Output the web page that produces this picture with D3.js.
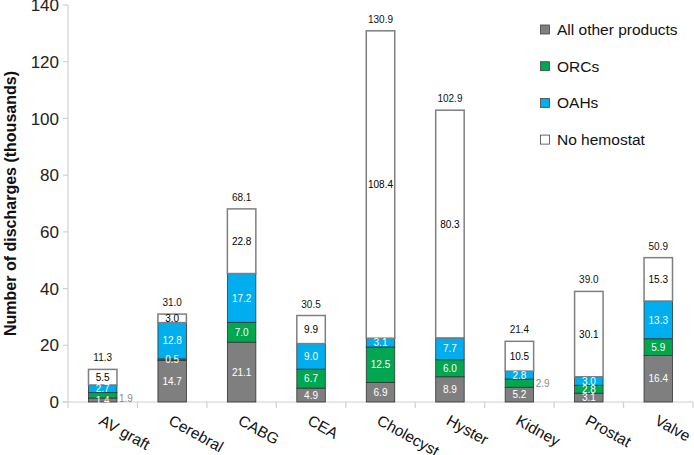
<!DOCTYPE html>
<html><head><meta charset="utf-8">
<script src="https://cdn.jsdelivr.net/npm/d3@7"></script>
<style>body{margin:0;background:#fff;}svg{display:block;font-family:"Liberation Sans",Arial,sans-serif;}</style>
</head><body><svg id="c" width="694" height="455"></svg>
<script>
const categories = ["AV graft","Cerebral","CABG","CEA","Cholecyst","Hyster","Kidney","Prostat","Valve"];
const seriesNames = ["All other products","ORCs","OAHs","No hemostat"];
const allOther = [1.4,14.7,21.1,4.9,6.9,8.9,5.2,3.1,16.4];
const orcs     = [1.9,0.5,7.0,6.7,12.5,6.0,2.9,2.8,5.9];
const oahs     = [2.7,12.8,17.2,9.0,3.1,7.7,2.8,3.0,13.3];
const noHemo   = [5.5,3.0,22.8,9.9,108.4,80.3,10.5,30.1,15.3];
const totals   = [11.3,31.0,68.1,30.5,130.9,102.9,21.4,39.0,50.9];
const yTicks   = [0,20,40,60,80,100,120,140];
const outsideLabels = [["AV graft","ORCs"],["Kidney","ORCs"]];

(function(){
const seriesValues = [allOther, orcs, oahs, noHemo];
const colors = ["#7f7f7f","#00a650","#00aeef","#ffffff"];
const textColors = ["#ffffff","#ffffff","#ffffff","#000000"];

const svg = d3.select("#c");
const mL = 68, mR = 693, mT = 5, mB = 402;
const x = d3.scaleBand().domain(categories).range([mL, mR]).paddingInner(0).paddingOuter(0);
const y = d3.scaleLinear().domain([0,140]).range([mB, mT]);
const bw = x.bandwidth()*0.41;

// axes
const axisColor = "#d0d0d0";
svg.append("line").attr("x1",mL).attr("x2",mL).attr("y1",y(140)).attr("y2",mB).attr("stroke",axisColor).attr("stroke-width",1.2);
yTicks.forEach(t=>{
  svg.append("line").attr("x1",mL-5).attr("x2",mL).attr("y1",y(t)).attr("y2",y(t)).attr("stroke",axisColor).attr("stroke-width",1.2);
  svg.append("text").attr("x",mL-9).attr("y",y(t)).attr("dy","0.36em").attr("text-anchor","end")
    .attr("font-size",17).attr("fill","#222").text(t);
});
svg.append("line").attr("x1",mL-6).attr("x2",mR).attr("y1",mB).attr("y2",mB).attr("stroke",axisColor).attr("stroke-width",1.2);
for(let i=0;i<=categories.length;i++){
  const xx = mL + i*x.step();
  svg.append("line").attr("x1",xx).attr("x2",xx).attr("y1",mB).attr("y2",mB+6).attr("stroke",axisColor).attr("stroke-width",1.2);
}
categories.forEach(c=>{
  const cx = x(c)+x.bandwidth()/2;
  svg.append("text").attr("transform",`translate(${cx-2},${mB+17}) rotate(29)`)
    .attr("font-size",15.5).attr("fill","#111").attr("text-anchor","start").attr("dy","0.35em").text(c);
});
svg.append("text").attr("transform",`translate(16,${(mT+mB)/2}) rotate(-90)`)
  .attr("text-anchor","middle").attr("font-size",16).attr("font-weight","bold").attr("fill","#111")
  .text("Number of discharges (thousands)");

// stacked bars
const rows = categories.map((c,i)=>{const o={cat:c}; seriesNames.forEach((s,j)=>o[s]=seriesValues[j][i]); return o;});
const stacked = d3.stack().keys(seriesNames)(rows);
stacked.forEach((layer,j)=>{
  layer.forEach((d,i)=>{
    const cx = x(categories[i])+x.bandwidth()/2;
    svg.append("rect").attr("x",cx-bw/2).attr("width",bw)
      .attr("y",y(d[1])).attr("height",y(d[0])-y(d[1]))
      .attr("fill",colors[j])
      .attr("stroke", j===3 ? "#7f7f7f" : "#333")
      .attr("stroke-width", j===3 ? 1.5 : 0.8);
  });
});
stacked.forEach((layer,j)=>{
  const name = seriesNames[j];
  layer.forEach((d,i)=>{
    const cat = categories[i];
    const cx = x(cat)+x.bandwidth()/2;
    const out = outsideLabels.some(p=>p[0]===cat && p[1]===name);
    svg.append("text").attr("x", out ? cx+bw/2+2 : cx).attr("y", y((d[0]+d[1])/2) + (out && d[0] < 2 ? 3 : 0)).attr("dy","0.36em")
      .attr("text-anchor", out ? "start" : "middle").attr("font-size",10)
      .attr("fill", out ? "#8a8a8a" : textColors[j])
      .text(seriesValues[j][i].toFixed(1));
  });
});
categories.forEach((c,i)=>{
  const cx = x(c)+x.bandwidth()/2;
  const topV = d3.sum(seriesValues, s=>s[i]);
  svg.append("text").attr("x",cx).attr("y",y(topV)-8).attr("text-anchor","middle").attr("font-size",10).attr("fill","#111")
    .text(totals[i].toFixed(1));
});

// legend
seriesNames.forEach((s,j)=>{
  const cy = 29.5 + j*36.7;
  svg.append("rect").attr("x",540.5).attr("y",cy-4.5).attr("width",9).attr("height",9)
    .attr("fill",colors[j]).attr("stroke","#444").attr("stroke-width",0.8);
  svg.append("text").attr("x",557).attr("y",cy).attr("dy","0.36em").attr("font-size",15.5).attr("fill","#111").text(s);
});
})();
</script></body></html>
